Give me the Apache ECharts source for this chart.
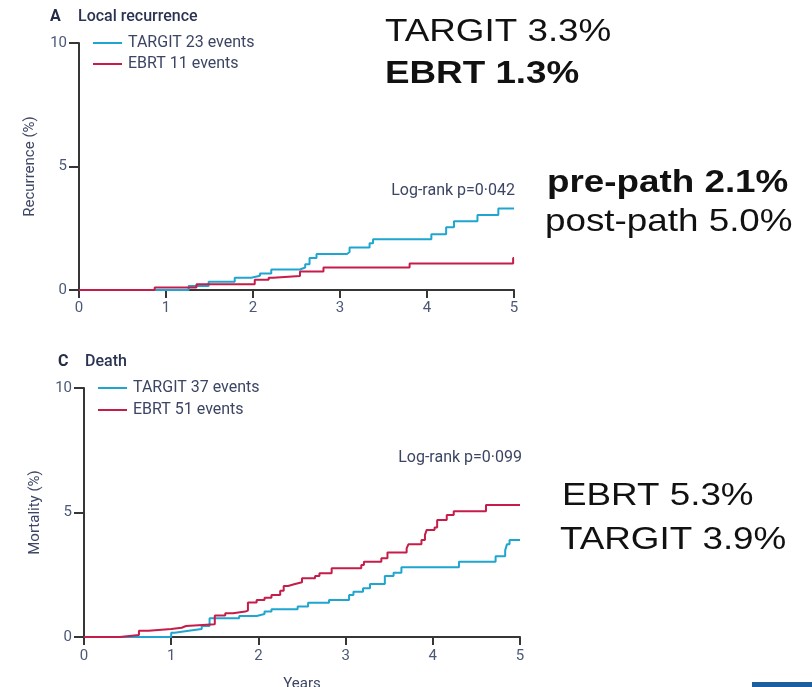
<!DOCTYPE html>
<html>
<head>
<meta charset="utf-8">
<script src="https://cdn.jsdelivr.net/npm/echarts@6/dist/echarts.min.js"></script>
<style>
  html, body { margin: 0; padding: 0; background: #ffffff; }
  #chart { width: 812px; height: 687px; }
</style>
</head>
<body>
<div id="chart"></div>
<script>
// Kaplan–Meier step curves: event times (years) and cumulative rate (%)
const recurTargitTimes  = [0, 1.26, 1.49, 1.79, 1.98, 2.08, 2.21, 2.54, 2.60, 2.65, 2.73, 3.08, 3.11, 3.34, 3.38, 4.05, 4.22, 4.31, 4.58, 4.82, 5.0];
const recurTargitValues = [0, 0.16, 0.33, 0.50, 0.58, 0.67, 0.83, 0.91, 1.04, 1.30, 1.46, 1.54, 1.72, 1.89, 2.05, 2.26, 2.54, 2.78, 3.04, 3.3, 3.3];

const recurEbrtTimes  = [0, 0.87, 1.35, 2.02, 2.18, 2.23, 2.54, 2.81, 3.80, 4.99, 5.0];
const recurEbrtValues = [0, 0.10, 0.23, 0.41, 0.50, 0.57, 0.75, 0.91, 1.07, 1.3, 1.3];

const deathTargitTimes  = [0, 1.00, 1.04, 1.20, 1.35, 1.44, 1.78, 1.98, 2.07, 2.15, 2.45, 2.57, 2.81, 3.04, 3.09, 3.20, 3.28, 3.45, 3.55, 3.64, 4.30, 4.72, 4.83, 4.85, 4.88, 5.0];
const deathTargitValues = [0, 0.17, 0.25, 0.32, 0.44, 0.75, 0.84, 0.92, 1.02, 1.11, 1.22, 1.38, 1.49, 1.69, 1.82, 1.96, 2.13, 2.45, 2.58, 2.80, 3.02, 3.24, 3.48, 3.72, 3.9, 3.9];

const deathEbrtTimes  = [0, 0.41, 0.63, 0.74, 1.00, 1.12, 1.17, 1.50, 1.62, 1.71, 1.85, 1.88, 1.98, 2.07, 2.15, 2.25, 2.29, 2.34, 2.42, 2.50, 2.65, 2.70, 2.84, 3.18, 3.21, 3.41, 3.48, 3.70, 3.72, 3.87, 3.91, 3.93, 4.02, 4.05, 4.16, 4.24, 4.61, 5.0];
const deathEbrtValues = [0, 0.08, 0.25, 0.32, 0.37, 0.44, 0.51, 0.86, 0.95, 1.02, 1.06, 1.39, 1.49, 1.58, 1.69, 1.86, 2.05, 2.13, 2.20, 2.36, 2.45, 2.56, 2.76, 2.89, 3.02, 3.16, 3.39, 3.56, 3.72, 3.90, 4.10, 4.30, 4.40, 4.70, 4.90, 5.05, 5.3, 5.3];

const seriesNames = ['TARGIT 23 events', 'EBRT 11 events', 'TARGIT 37 events', 'EBRT 51 events'];
const panelTitles = [['A', 'Local recurrence'], ['C', 'Death']];
const yAxisNames = ['Recurrence (%)', 'Mortality (%)'];
const pValues = ['Log-rank p=0·042', 'Log-rank p=0·099'];
const summaryLines = [
  ['TARGIT 3.3%', 'normal'], ['EBRT 1.3%', 'bold'],
  ['pre-path 2.1%', 'bold'], ['post-path 5.0%', 'normal'],
  ['EBRT 5.3%', 'normal'], ['TARGIT 3.9%', 'normal']
];

const BLUE = '#1ea5d0';
const RED = '#c61c4a';
const AXIS = '#363636';
const INK = '#3c4564';
const FONT = 'Roboto, "Liberation Sans", sans-serif';
const BIG = '"Liberation Sans", Arial, sans-serif';

const zip = (t, v) => t.map((x, i) => [x, v[i]]);

function xAxisFor(gridIndex, name, margin) {
  return {
    type: 'value', gridIndex, min: 0, max: 5, interval: 1,
    axisLine: { show: true, onZero: true, lineStyle: { color: AXIS, width: 2 } },
    axisTick: { show: true, length: 8, lineStyle: { color: AXIS, width: 2 } },
    axisLabel: { margin: margin, color: '#4b5878', fontFamily: FONT, fontSize: 15 },
    splitLine: { show: false },
    name: name, nameLocation: 'middle', nameGap: 40,
    nameTextStyle: { color: INK, fontFamily: FONT, fontSize: 15 }
  };
}

function yAxisFor(gridIndex, name, gap) {
  return {
    type: 'value', gridIndex, min: 0, max: 10, interval: 5,
    axisLine: { show: true, lineStyle: { color: AXIS, width: 2 } },
    axisTick: { show: true, length: 10, lineStyle: { color: AXIS, width: 2 } },
    axisLabel: { margin: 12, color: '#4b5878', fontFamily: FONT, fontSize: 15 },
    splitLine: { show: false },
    name: name, nameLocation: 'middle', nameRotate: 90, nameGap: gap,
    nameTextStyle: { color: INK, fontFamily: FONT, fontSize: 15 }
  };
}

function kmSeries(name, data, color, idx) {
  return {
    name, type: 'line', step: 'end', data,
    xAxisIndex: idx, yAxisIndex: idx,
    showSymbol: false, symbol: 'none', animation: false,
    lineStyle: { color, width: 2 }, itemStyle: { color }
  };
}

function legendFor(names, left, top, gap) {
  return {
    data: names, orient: 'vertical', left, top, padding: 0, itemGap: gap,
    icon: 'rect', itemWidth: 29, itemHeight: 2,
    textStyle: { color: INK, fontFamily: FONT, fontSize: 16, padding: [0, 0, 0, 1] },
    selectedMode: false
  };
}

function label(text, x, y, opts) {
  return {
    type: 'text', x, y, scaleX: opts.scaleX || 1,
    style: {
      text, fill: opts.fill || INK,
      font: (opts.weight || 'normal') + ' ' + opts.size + 'px ' + (opts.family || FONT),
      align: opts.align || 'left', verticalAlign: 'middle'
    }
  };
}

const summaryPos = [[385, 32], [385, 74], [547, 183], [545, 222], [562, 496], [560, 540]];

const graphics = [
  label(panelTitles[0][0], 50, 17, { size: 16, weight: 'bold', fill: '#242c48' }),
  label(panelTitles[0][1], 78, 17, { size: 16, weight: 500, fill: '#2a3352' }),
  label(panelTitles[1][0], 58, 362, { size: 16, weight: 'bold', fill: '#242c48' }),
  label(panelTitles[1][1], 85, 362, { size: 16, weight: 500, fill: '#2a3352' }),
  label(pValues[0], 515, 191, { size: 16, align: 'right' }),
  label(pValues[1], 522, 458, { size: 16, align: 'right' })
].concat(summaryLines.map((s, i) =>
  label(s[0], summaryPos[i][0], summaryPos[i][1], { size: 32, weight: s[1], fill: '#111111', family: BIG, scaleX: 1.15 })
)).concat([{
  type: 'rect', shape: { x: 752, y: 682, width: 60, height: 5 },
  style: { fill: '#1d5f9e' }
}]);

const option = {
  backgroundColor: '#ffffff',
  animation: false,
  grid: [
    { left: 79, top: 43, width: 435, height: 247, outerBoundsMode: 'none', containLabel: false },
    { left: 84, top: 388, width: 436, height: 249, outerBoundsMode: 'none', containLabel: false }
  ],
  xAxis: [xAxisFor(0, '', 11), xAxisFor(1, 'Years', 12)],
  yAxis: [yAxisFor(0, yAxisNames[0], 41), yAxisFor(1, yAxisNames[1], 41)],
  legend: [
    legendFor(seriesNames.slice(0, 2), 93, 35, 5),
    legendFor(seriesNames.slice(2, 4), 98, 380, 6)
  ],
  series: [
    kmSeries(seriesNames[0], zip(recurTargitTimes, recurTargitValues), BLUE, 0),
    kmSeries(seriesNames[1], zip(recurEbrtTimes, recurEbrtValues), RED, 0),
    kmSeries(seriesNames[2], zip(deathTargitTimes, deathTargitValues), BLUE, 1),
    kmSeries(seriesNames[3], zip(deathEbrtTimes, deathEbrtValues), RED, 1)
  ],
  graphic: graphics
};

const chart = echarts.init(document.getElementById('chart'), null, { renderer: 'canvas' });
chart.setOption(option);
</script>
</body>
</html>
